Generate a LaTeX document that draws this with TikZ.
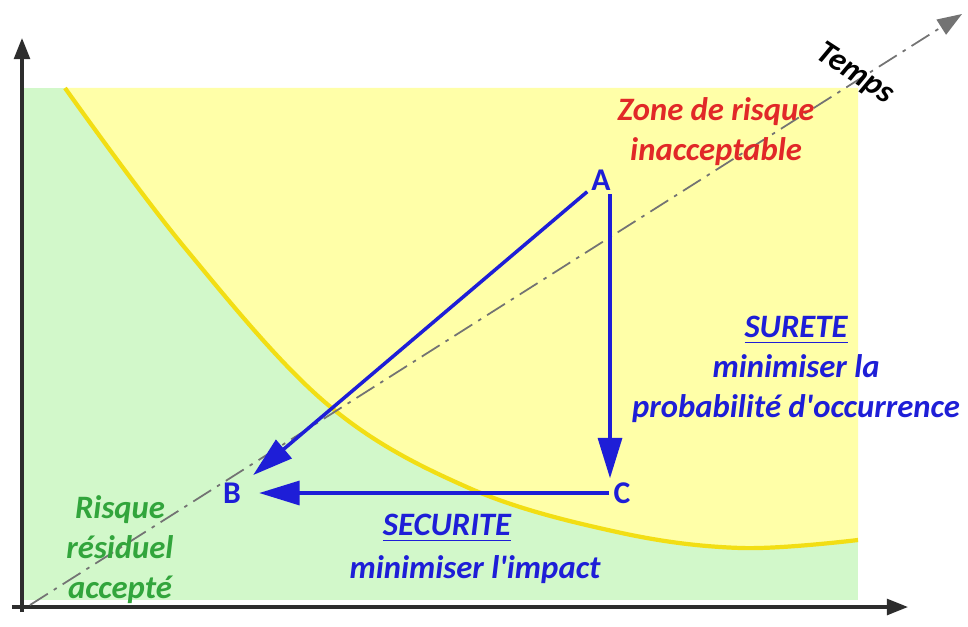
\documentclass[tikz,border=0pt]{standalone}
\usepackage{fontspec}
\setmainfont{Carlito}[Ligatures=TeXOff]
\usetikzlibrary{arrows.meta,positioning}

\definecolor{vert}{RGB}{210,248,202}
\definecolor{jaune}{RGB}{255,255,168}
\definecolor{courbe}{RGB}{242,222,20}
\definecolor{bleu}{RGB}{30,30,215}
\definecolor{rouge}{RGB}{225,40,40}
\definecolor{vertfonce}{RGB}{50,165,60}
\definecolor{axe}{RGB}{45,45,45}

\tikzset{
    txt/.style={font=\fontsize{9.3}{11.4}\selectfont\bfseries\itshape, align=center, inner sep=0pt},
    pt/.style={font=\fontsize{9}{10}\selectfont\bfseries, text=bleu, inner sep=1pt},
    fleche/.style={draw=bleu, line width=1pt, -{Triangle[length=11.5pt,width=6.8pt]}},
    axis/.style={draw=axe, line width=0.9pt, -{Triangle[length=6pt,width=4.5pt]}},
}

\begin{document}
\begin{tikzpicture}
        \useasboundingbox (0,0) rectangle (9.68,6.26);
        % zones
        \path[fill=vert] (0.22,0.26) rectangle (8.58,5.38);
        \path[fill=jaune] plot[smooth, tension=0.6] coordinates {(0.65,5.38) (1.85,3.78) (3.27,2.22) (4.69,1.38) (6.17,0.94) (7.41,0.78) (8.58,0.86)} -- (8.58,5.38) -- cycle;
        \path[draw=courbe, line width=1.2pt] plot[smooth, tension=0.6] coordinates {(0.65,5.38) (1.85,3.78) (3.27,2.22) (4.69,1.38) (6.17,0.94) (7.41,0.78) (8.58,0.86)};
        % axis
        \coordinate (y0) at (0.22,0.14);
        \coordinate (y) at (0.22,5.88);
        \coordinate (x0) at (0.12,0.19);
        \coordinate (x) at (9.08,0.19);
        \path[axis] (y0) to (y);
        \path[axis] (x0) to (x);
        % temps
        \coordinate (t0) at (0.30,0.21);
        \coordinate (t) at (9.62,6.12);
        \path[draw=gray!90!black, line width=0.5pt, dash pattern=on 6pt off 2pt on 1pt off 2pt, -{Triangle[length=7pt,width=5pt]}] (t0) to (t);
        \node[txt, rotate=-33] (temps) at (8.55,5.52) {Temps};
        % points
        \node[pt] (A) at (6.01,4.46) {A};
        \node[pt] (B) at (2.32,1.33) {B};
        \node[pt] (C) at (6.22,1.33) {C};
        \path[fleche, shorten >=3pt] (A) to (B);
        \path[fleche] ([xshift=0.09cm]A.south) to ([xshift=0.09cm]A.south |- C.north);
        \path[fleche, shorten >=4pt] (C) to (B);
        % textes
        \node[txt, text=rouge] (zone) at (7.16,4.94) {Zone de risque\\inacceptable};
        \node[txt, text=bleu] (surete) at (7.96,2.57) {\underline{SURETE}\\minimiser la\\probabilité d'occurrence};
        \node[txt, text=bleu] (securite) at (4.47,0.98) {\underline{SECURITE}};
        \node[txt, text=bleu] (impact) at (4.75,0.56) {minimiser l'impact};
        \node[txt, text=vertfonce] (residuel) at (1.2,0.76) {Risque\\résiduel\\accepté};
\end{tikzpicture}
\end{document}
